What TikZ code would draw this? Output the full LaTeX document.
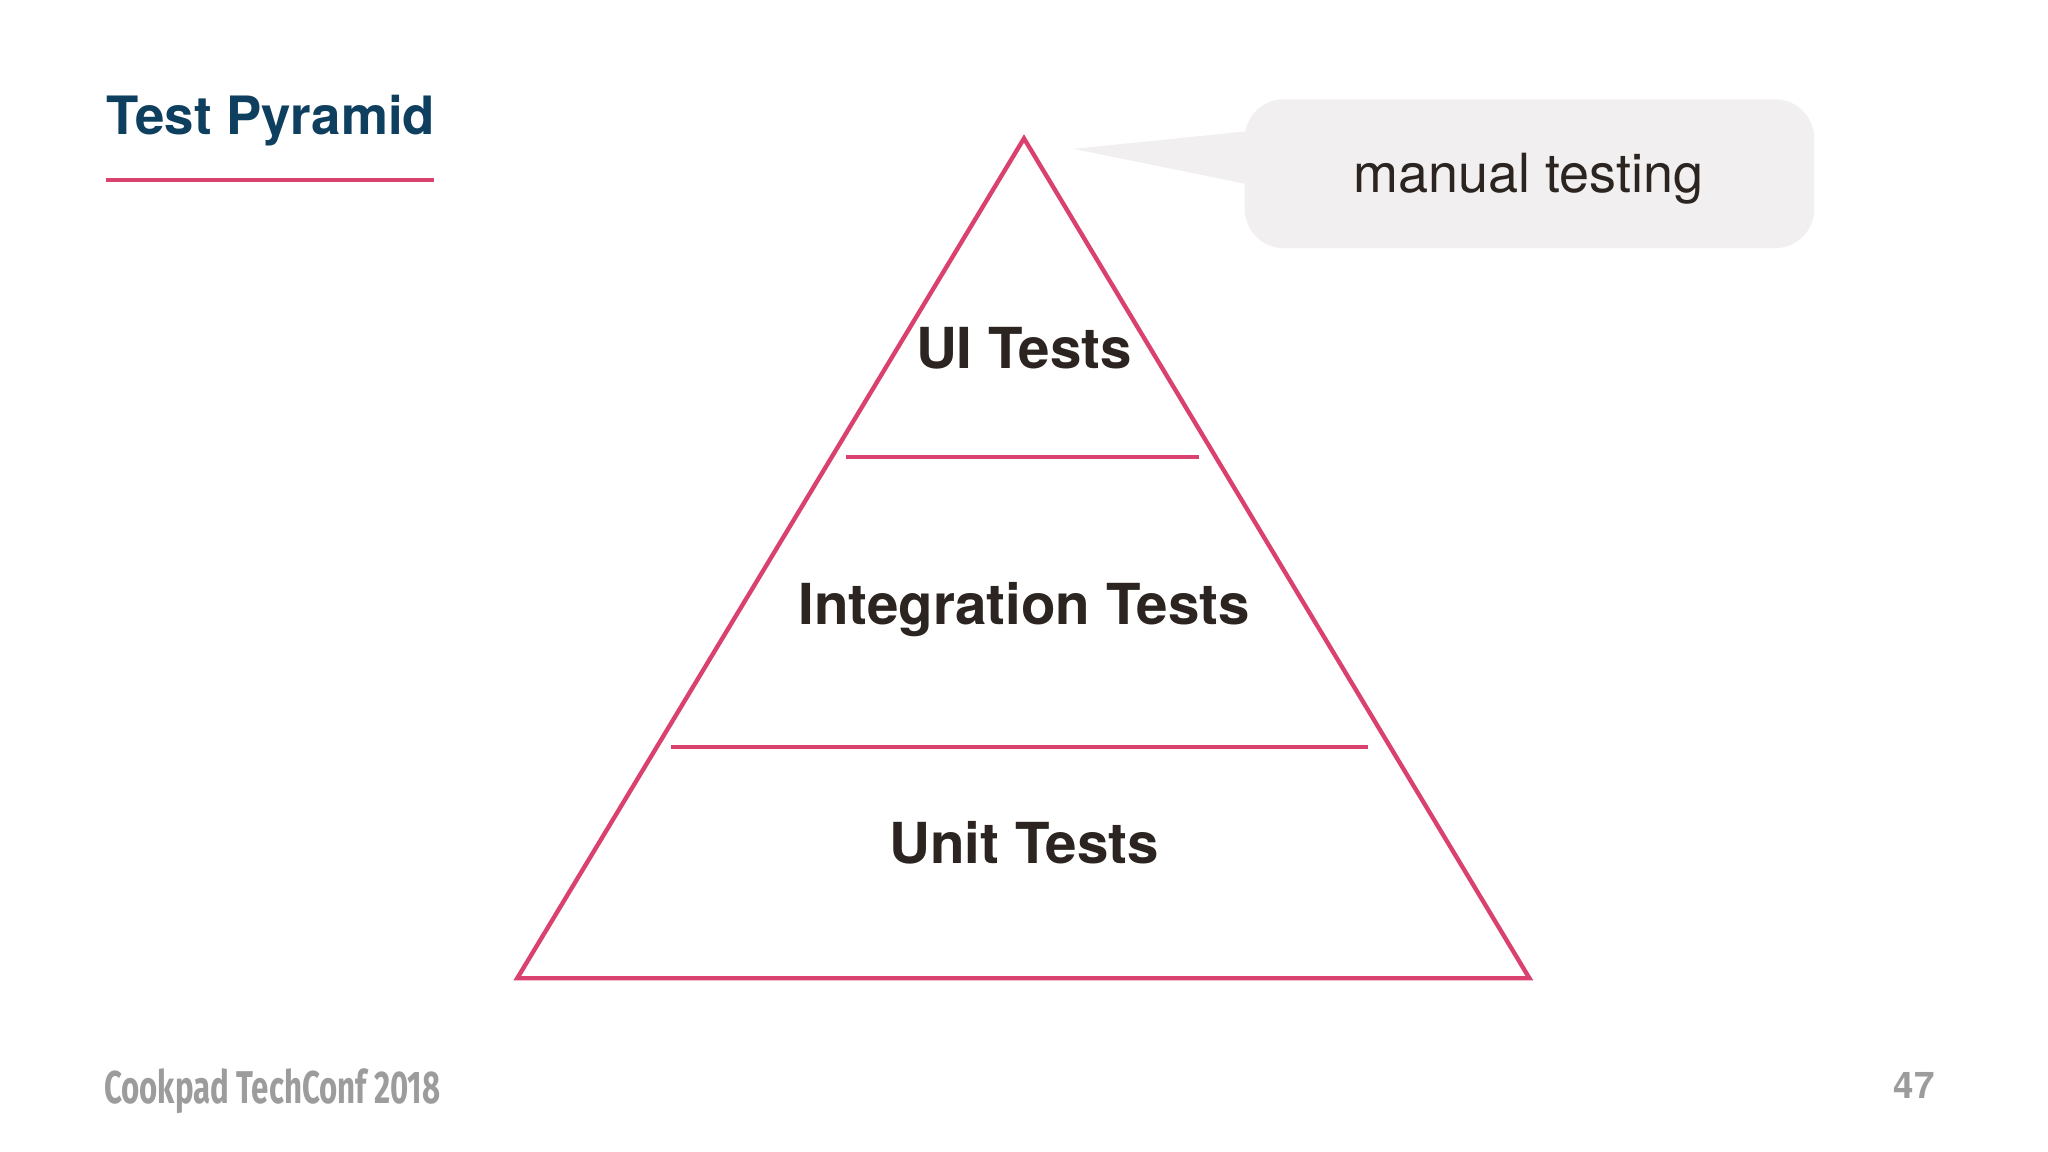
\documentclass[tikz,border=0pt]{standalone}
\usepackage{fontspec}
\setmainfont{TeX Gyre Heros}
\newfontfamily\foot{Fira Sans}
\definecolor{pk}{HTML}{D9416F}
\definecolor{ttl}{HTML}{0F3F5F}
\definecolor{txt}{HTML}{2B2420}
\definecolor{bub}{HTML}{F1EFEF}
\definecolor{gr}{HTML}{9C9C9C}
\tikzset{pline/.style={draw=pk,line width=0.95pt},
 lbl/.style={text=txt,font=\fontsize{12.3}{14}\selectfont\bfseries,inner sep=0pt}}
\begin{document}
\begin{tikzpicture}[x=0.01cm,y=-0.01cm]
\useasboundingbox (0,0) rectangle (1568,882);
\fill[white] (0,0) rectangle (1568,882);
\node[anchor=base west,inner sep=0,text=ttl,font=\fontsize{11.5}{13}\selectfont\bfseries] (title) at (81,103) {Test Pyramid};
\coordinate (u1) at (81,138); \coordinate (u2) at (332,138);
\draw[pline] (u1) -- (u2);
\coordinate (A) at (784,106); \coordinate (B) at (1171,749); \coordinate (C) at (396,749);
\draw[pline,line join=miter] (A) -- (B) -- (C) -- cycle;
\coordinate (l1a) at (648,350); \coordinate (l1b) at (918,350);
\coordinate (l2a) at (514,572); \coordinate (l2b) at (1047,572);
\draw[pline] (l1a) -- (l1b);
\draw[pline] (l2a) -- (l2b);
\node[lbl] (ui) at (784,267) {UI Tests};
\node[lbl] (it) at (784,467) {Integration Tests};
\node[lbl] (un) at (784,645) {Unit Tests};
\fill[bub] (822,114) -- (960,100) -- (960,142) -- cycle;
\fill[bub,rounded corners=30*0.01cm] (953,76) rectangle (1389,190);
\node[text=txt,font=\fontsize{11.75}{14}\selectfont,inner sep=0] (mt) at (1170,137) {manual testing};
\node[anchor=base west,inner sep=0,text=gr,font=\foot\fontsize{10}{12}\selectfont\bfseries] (ft) at (79,845) {\scalebox{0.68}[1]{Cookpad TechConf 2018}};
\node[anchor=base east,inner sep=0,text=gr,font=\fontsize{8}{10}\selectfont\bfseries] (pg) at (1482,841) {47};
\end{tikzpicture}
\end{document}
